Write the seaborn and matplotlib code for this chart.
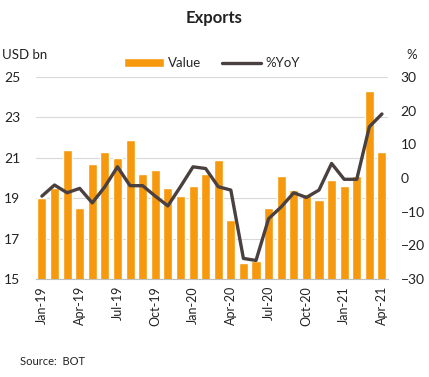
"""Exports: monthly value (bars) and %YoY (line)."""

import matplotlib.pyplot as plt
import numpy as np
import pandas as pd
import seaborn as sns

# Data
months = [
    "Jan-19", "Feb-19", "Mar-19", "Apr-19", "May-19", "Jun-19", "Jul-19",
    "Aug-19", "Sep-19", "Oct-19", "Nov-19", "Dec-19", "Jan-20", "Feb-20",
    "Mar-20", "Apr-20", "May-20", "Jun-20", "Jul-20", "Aug-20", "Sep-20",
    "Oct-20", "Nov-20", "Dec-20", "Jan-21", "Feb-21", "Mar-21", "Apr-21",
]
value = [
    19.0, 19.5, 21.4, 18.5, 20.7, 21.3, 21.0, 21.9, 20.2, 20.4, 19.5, 19.1,
    19.6, 20.2, 20.9, 17.9, 15.8, 15.9, 18.5, 20.1, 19.4, 19.2, 18.9, 19.9,
    19.6, 20.1, 24.3, 21.3,
]
yoy = [
    -5.4, -2.1, -4.4, -3.1, -7.4, -2.6, 3.3, -2.3, -2.3, -5.4, -8.3, -2.6,
    3.3, 2.8, -2.6, -3.6, -23.9, -24.5, -12.1, -8.6, -4.4, -5.8, -3.6, 4.3,
    -0.4, -0.4, 15.2, 19.0,
]
tick_labels = months[::3]

df = pd.DataFrame({"month": months, "value": value, "yoy": yoy})
df["pos"] = np.arange(len(df))

sns.set_style("white")
plt.rcParams["font.family"] = ["Lato", "DejaVu Sans"]

bar_color = "#F7990C"
line_color = "#4A4040"
text_color = "#222222"

fig = plt.figure(figsize=(4.29, 3.77), dpi=100)
ax = fig.add_axes([0.083, 0.26, 0.822, 0.536])

sns.barplot(data=df, x="month", y="value", color=bar_color, width=0.72,
            saturation=1, ax=ax, label="Value", zorder=2)
ax.set_ylim(15, 25)
ax.set_yticks([15, 17, 19, 21, 23, 25])
ax.set_xlim(-0.5, len(df) - 0.5)
ax.yaxis.grid(True, color="#D9D9D9", linewidth=0.8, zorder=0)
ax.set_axisbelow(True)
ax.set_xticks(df["pos"][::3])
ax.set_xticklabels(tick_labels, rotation=90)
ax.set_xlabel("")
ax.set_ylabel("")
ax.tick_params(axis="both", length=0, colors=text_color)
ax.tick_params(axis="x", labelsize=9, pad=5)
ax.tick_params(axis="y", labelsize=10, pad=11)
for side in ["top", "right", "left"]:
    ax.spines[side].set_visible(False)
ax.spines["bottom"].set_color("#BFBFBF")
if ax.get_legend() is not None:
    ax.get_legend().remove()

ax2 = ax.twinx()
sns.lineplot(data=df, x="pos", y="yoy", color=line_color, linewidth=2.4,
             ax=ax2, label="%YoY")
ax2.set_ylim(-30, 30)
ax2.set_yticks(range(-30, 31, 10))
ax2.set_ylabel("")
ax2.set_xlabel("")
ax2.tick_params(axis="y", length=0, labelsize=10, colors=text_color, pad=9)
for side in ["top", "right", "left", "bottom"]:
    ax2.spines[side].set_visible(False)
ax2.get_legend().remove()

# Combined legend
h1, l1 = ax.get_legend_handles_labels()
h2, l2 = ax2.get_legend_handles_labels()
fig.legend(h1 + h2, l1 + l2, loc="center", bbox_to_anchor=(0.494, 0.832),
           ncol=2, frameon=False, fontsize=9.5, handlelength=3.0,
           handleheight=0.7, columnspacing=1.6, handletextpad=0.3)

fig.text(0.5, 0.952, "Exports", ha="center", va="center", fontsize=12,
         fontweight="bold", color=text_color)
fig.text(0.005, 0.855, "USD bn", ha="left", va="center", fontsize=9.5,
         color=text_color)
fig.text(0.96, 0.855, "%", ha="center", va="center", fontsize=9.5,
         color=text_color)
fig.text(0.047, 0.04, "Source:  BOT", ha="left", va="center", fontsize=8,
         color=text_color)

fig.savefig("out.png", dpi=100)
